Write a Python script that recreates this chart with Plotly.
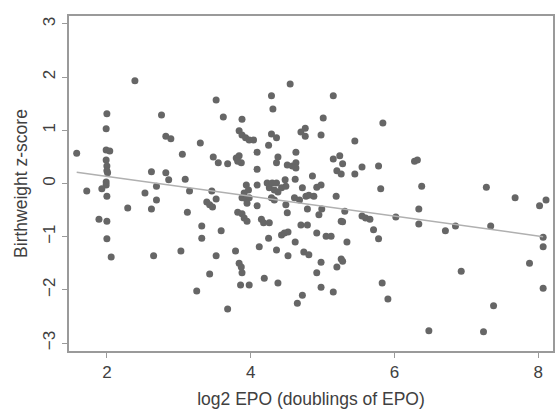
import plotly.graph_objects as go

# log2 EPO values (x) and birthweight z-scores (y)
epo = [1.58, 2.39, 2.00, 1.99, 1.99, 2.04, 1.99, 2.00, 2.00, 2.01, 1.99, 1.99, 2.00, 1.72, 1.93,
       1.89, 2.00, 2.00, 2.06, 2.29, 2.76, 2.82, 2.89, 3.05, 3.30, 2.62, 2.82, 2.86, 2.69, 3.09,
       2.53, 3.15, 2.69, 2.62, 3.12, 2.65, 3.03, 3.25, 3.32, 3.32,
       4.55, 3.52, 4.29, 4.31, 5.15, 3.62, 3.88, 5.01, 5.84, 3.84, 3.88, 3.93, 3.98, 4.04, 4.29,
       4.36, 4.25, 4.70, 4.76, 4.76, 4.98, 5.45, 4.09, 3.48, 3.55, 3.68, 3.80, 3.84, 3.87, 3.82,
       4.38, 4.36, 4.63, 4.51, 4.58, 4.63, 4.63, 4.86, 5.15, 5.24, 5.28, 5.20, 5.26, 5.45, 5.55,
       5.78, 6.28, 6.32, 5.81, 6.38, 7.28, 7.68, 8.11, 8.02, 6.34, 4.09, 3.46, 4.62, 4.48, 3.94,
       3.97, 3.91, 4.09, 4.23, 4.30, 4.36, 4.26, 4.33, 4.38, 4.43, 4.49, 4.72, 4.92, 4.98, 5.19,
       4.61, 4.68, 4.77, 4.81, 4.88, 3.39, 3.43, 3.47, 3.52, 3.88, 3.94, 3.98, 3.95, 4.29, 4.33,
       4.09, 4.49, 4.79, 4.95, 4.99, 5.31, 4.51, 5.55, 5.60, 5.66, 5.71, 5.78, 6.02, 6.34, 6.71,
       6.85, 7.34, 8.07, 8.07, 7.88, 8.07, 6.93, 5.83, 5.91, 7.38, 6.48, 7.24, 3.82, 3.88, 3.91,
       3.95, 4.15, 4.18, 4.26, 3.59, 4.25, 4.43, 4.47, 4.52, 4.62, 5.26, 5.28, 4.70, 4.79, 4.92,
       5.05, 5.12, 5.34, 3.79, 4.12, 4.36, 3.52, 4.52, 4.74, 4.81, 4.98, 5.26, 5.28, 5.20, 3.84,
       3.87, 3.88, 4.92, 3.43, 4.19, 4.38, 3.86, 3.98, 4.98, 5.15, 4.72, 4.65, 3.68]
zscore = [0.57, 1.93, 1.31, 1.03, 0.63, 0.61, 0.44, 0.33, 0.24, 0.20, 0.03, -0.03, -0.24, -0.14, -0.10,
          -0.67, -0.71, -1.04, -1.38, -0.46, 1.29, 0.89, 0.84, 0.55, 0.76, 0.22, 0.20, 0.07, -0.05, 0.08,
          -0.18, -0.14, -0.31, -0.48, -0.54, -1.36, -1.27, -2.02, -0.80, -1.03,
          1.87, 1.57, 1.65, 1.40, 1.65, 1.25, 1.21, 1.23, 1.14, 0.99, 0.91, 0.86, 0.82, 0.82, 0.93,
          0.86, 0.72, 0.97, 1.04, 0.89, 0.91, 0.80, 0.59, 0.50, 0.39, 0.37, 0.48, 0.52, 0.39, 0.42,
          0.50, 0.39, 0.59, 0.35, 0.33, 0.39, 0.29, 0.14, 0.46, 0.52, 0.37, 0.24, 0.18, 0.18, 0.31,
          0.33, 0.42, 0.44, -0.10, -0.05, -0.07, -0.27, -0.31, -0.42, -0.48, 0.27, -0.14, 0.08, 0.07, -0.03,
          -0.12, -0.18, -0.03, 0.01, 0.01, 0.01, -0.08, -0.12, -0.16, -0.08, -0.05, -0.08, -0.07, -0.03, -0.24,
          -0.27, -0.31, -0.24, -0.22, -0.24, -0.35, -0.40, -0.44, -0.29, -0.27, -0.29, -0.27, -0.37, -0.27, -0.31,
          -0.42, -0.40, -0.48, -0.59, -0.48, -0.52, -0.55, -0.61, -0.65, -0.67, -0.87, -1.04, -0.63, -0.76, -0.89,
          -0.80, -0.80, -1.01, -1.19, -1.50, -1.97, -1.65, -1.87, -2.17, -2.30, -2.77, -2.79, -0.54, -0.57, -0.65,
          -0.71, -0.67, -0.74, -0.74, -0.89, -1.03, -0.97, -0.93, -0.91, -1.10, -0.71, -0.72, -0.78, -0.78, -0.93,
          -0.99, -0.99, -1.10, -1.27, -1.19, -1.25, -1.36, -1.36, -1.29, -1.34, -1.48, -1.42, -1.46, -1.57, -1.50,
          -1.57, -1.68, -1.68, -1.70, -1.78, -1.87, -1.91, -1.91, -1.95, -2.04, -2.10, -2.25, -2.36]

# fitted regression line end points
fit_x = [1.58, 8.07]
fit_y = [0.21, -1.00]

x_ticks = [2, 4, 6, 8]
y_ticks = [-3, -2, -1, 0, 1, 2, 3]

fig = go.Figure()
fig.add_trace(go.Scatter(x=epo, y=zscore, mode="markers",
                         marker=dict(color="#666666", size=7, line=dict(width=0)),
                         hoverinfo="skip", showlegend=False))
fig.add_trace(go.Scatter(x=fit_x, y=fit_y, mode="lines",
                         line=dict(color="#b0b0b0", width=1.5),
                         hoverinfo="skip", showlegend=False))

font_fam = "Liberation Sans, Arial, sans-serif"
fig.update_layout(
    width=556, height=410,
    margin=dict(l=69, r=1, t=16, b=59),
    paper_bgcolor="white", plot_bgcolor="white",
    font=dict(family=font_fam, size=17, color="#404040"),
    showlegend=False,
)
fig.update_xaxes(range=[1.473, 8.207], tickvals=x_ticks, ticktext=[str(v) for v in x_ticks],
                 showgrid=False, zeroline=False, showline=True, mirror=True,
                 linecolor="#9a9a9a", linewidth=1.5, ticks="outside", ticklen=5,
                 tickcolor="#9a9a9a", tickwidth=1.2, tickfont=dict(size=17),
                 title=dict(text="log2 EPO (doublings of EPO)", font=dict(size=17.5), standoff=12))
fig.update_yaxes(range=[-3.15, 3.15], tickvals=y_ticks,
                 ticktext=["\u22123", "\u22122", "\u22121", "0", "1", "2", "3"],
                 tickangle=-90,
                 showgrid=False, zeroline=False, showline=True, mirror=True,
                 linecolor="#9a9a9a", linewidth=1.5, ticks="outside", ticklen=5,
                 tickcolor="#9a9a9a", tickwidth=1.2, tickfont=dict(size=17),
                 title=dict(text="Birthweight z-score", font=dict(size=17.5), standoff=8))

fig.write_html("out.html")
